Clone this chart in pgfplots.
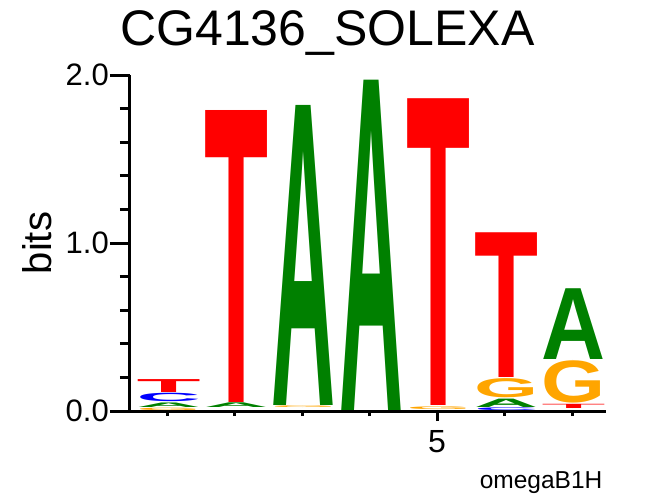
\documentclass[border=0pt]{standalone}
\usepackage{fontspec}
\setmainfont{Liberation Sans}
\usepackage{graphicx}
\usepackage{pgfplots}
\usepackage{pgfplotstable}
\pgfplotsset{compat=1.18}
\definecolor{lgreen}{RGB}{0,128,0}
\definecolor{lorange}{RGB}{255,165,0}
\definecolor{lred}{RGB}{255,0,0}
\definecolor{lblue}{RGB}{0,0,255}

% position, bottom (bits), height (bits)
\pgfplotstableread{
x y h
1 0.018 0.027
2 0.018 0.028
3 0.035 1.785
4 0.005 1.965
6 0.022 0.050
7 0.305 0.421
}\dataA
\pgfplotstableread{
x y h
1 0.055 0.050
6 0.000 0.016
}\dataC
\pgfplotstableread{
x y h
1 0.000 0.014
3 0.020 0.010
5 0.008 0.016
6 0.080 0.114
7 0.045 0.252
}\dataG
\pgfplotstableread{
x y h
1 0.113 0.077
2 0.050 1.737
5 0.035 1.825
6 0.200 0.861
7 0.013 0.025
}\dataT

\pgfplotsset{logo/.style 2 args={scatter, only marks, mark=*, mark size=0pt,
  mark options={draw=none,fill=none},
  visualization depends on={\thisrow{h}*168 \as \hpt},
  scatter/@pre marker code/.code={\node[inner sep=0pt,outer sep=0pt,anchor=south,xshift=32pt,text=#2] at (0,0) {\resizebox*{64pt}{\hpt pt}{\bfseries #1}};},
  scatter/@post marker code/.code={}}}

\begin{document}
\begin{tikzpicture}
\useasboundingbox (-130pt,-85pt) rectangle (524pt,411pt);
\begin{axis}[
  at={(0,0)}, anchor=south west,
  x=67.5pt, y=168pt, xmin=0.45, xmax=7.495, ymin=0, ymax=2,
  clip=false,
  axis x line=bottom, axis y line=left,
  axis line style={line width=3pt,-},
  tick align=outside, major tick length=20pt, minor tick length=10pt,
  tick style={line width=3pt, black},
  xtick style={yscale=0.5},
  xtick={5}, xticklabels={5}, minor xtick={1,2,3,4,6,7},
  ytick={0,1,2}, yticklabels={0.0,1.0,2.0},
  minor ytick={0.2,0.4,0.6,0.8,1.2,1.4,1.6,1.8},
  /pgf/number format/assume math mode=true,
  xticklabel style={font=\fontsize{32}{32}\selectfont, yshift=4pt},
  yticklabel style={font=\fontsize{31}{31}\selectfont, inner sep=1pt},
  title={CG4136\_SOLEXA},
  title style={at={([yshift=24pt]axis description cs:0.415,1)}, anchor=base, font=\fontsize{50}{50}\selectfont, inner sep=0pt},
  xlabel={omegaB1H},
  xlabel style={at={([xshift=-3pt,yshift=-77pt]axis description cs:1,0)}, anchor=base east, font=\fontsize{24.5}{24.5}\selectfont, inner sep=0pt},
  ylabel={bits},
  ylabel style={at={([xshift=-78pt]axis description cs:0,0.5)}, anchor=base, font=\fontsize{40}{40}\selectfont, inner sep=0pt},
]
\addplot[logo={A}{lgreen}] table[x=x,y=y] {\dataA};
\addplot[logo={C}{lblue}] table[x=x,y=y] {\dataC};
\addplot[logo={G}{lorange}] table[x=x,y=y] {\dataG};
\addplot[logo={T}{lred}] table[x=x,y=y] {\dataT};
\end{axis}
\end{tikzpicture}
\end{document}
